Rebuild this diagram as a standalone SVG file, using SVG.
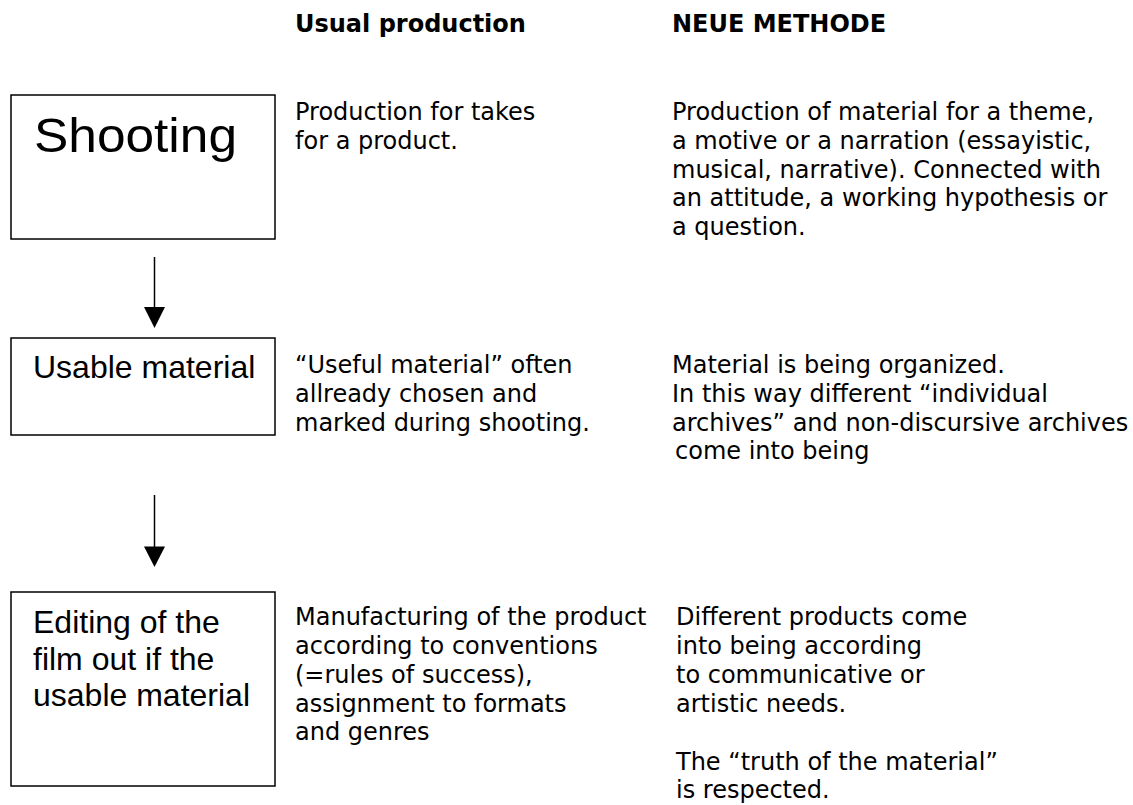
<svg xmlns="http://www.w3.org/2000/svg" width="1133" height="805" viewBox="0 0 1133 805">
  <style>
    .box { fill: #ffffff; stroke: #000000; stroke-width: 1.5; }
    .label { font-family: "Liberation Sans", Arial, sans-serif; font-size: 32px; fill: #000000; }
    .body { font-family: Verdana, "DejaVu Sans", sans-serif; font-size: 24px; fill: #000000; }
    .head { font-family: Verdana, "DejaVu Sans", sans-serif; font-size: 24px; font-weight: bold; fill: #000000; }
    .conn { stroke: #000000; stroke-width: 1.5; fill: none; }
    .tip { fill: #000000; stroke: none; }
  </style>

  <rect width="1133" height="805" fill="#ffffff"/>

  <!-- column headings -->
  <g id="headings">
    <text class="head" x="295" y="32">Usual production</text>
    <text class="head" x="672" y="32">NEUE METHODE</text>
  </g>

  <!-- process steps -->
  <g id="node-shooting">
    <rect class="box" x="11" y="95" width="264" height="144"/>
    <text class="label" x="34" y="152" style="font-size:48px" textLength="203" lengthAdjust="spacingAndGlyphs">Shooting</text>
  </g>

  <g id="node-usable">
    <rect class="box" x="11" y="338" width="264" height="97"/>
    <text class="label" x="33" y="378">Usable material</text>
  </g>

  <g id="node-editing">
    <rect class="box" x="11" y="592" width="264" height="194"/>
    <text class="label" x="33" y="633">Editing of the</text>
    <text class="label" x="33" y="670">film out if the</text>
    <text class="label" x="33" y="706">usable material</text>
  </g>

  <!-- arrows between steps -->
  <g id="connectors">
    <line class="conn" x1="154.5" y1="257" x2="154.5" y2="308"/>
    <polygon class="tip" points="144,307 165,307 154.5,328"/>
    <line class="conn" x1="154.5" y1="495" x2="154.5" y2="548"/>
    <polygon class="tip" points="144,546.5 165,546.5 154.5,567"/>
  </g>

  <!-- usual production column -->
  <g id="usual-shooting">
    <text class="body" x="295" y="120">Production for takes</text>
    <text class="body" x="295" y="149">for a product.</text>
  </g>
  <g id="usual-usable">
    <text class="body" x="295" y="373">“Useful material” often</text>
    <text class="body" x="295" y="402">allready chosen and</text>
    <text class="body" x="295" y="431">marked during shooting.</text>
  </g>
  <g id="usual-editing">
    <text class="body" x="295" y="625">Manufacturing of the product</text>
    <text class="body" x="295" y="654">according to conventions</text>
    <text class="body" x="295" y="683">(=rules of success),</text>
    <text class="body" x="295" y="712">assignment to formats</text>
    <text class="body" x="295" y="740">and genres</text>
  </g>

  <!-- new method column -->
  <g id="new-shooting">
    <text class="body" x="672" y="120">Production of material for a theme,</text>
    <text class="body" x="672" y="149">a motive or a narration (essayistic,</text>
    <text class="body" x="672" y="178">musical, narrative). Connected with</text>
    <text class="body" x="672" y="206">an attitude, a working hypothesis or</text>
    <text class="body" x="672" y="235">a question.</text>
  </g>
  <g id="new-usable">
    <text class="body" x="672" y="373">Material is being organized.</text>
    <text class="body" x="672" y="402">In this way different “individual</text>
    <text class="body" x="672" y="431">archives” and non-discursive archives</text>
    <text class="body" x="675" y="459">come into being</text>
  </g>
  <g id="new-editing">
    <text class="body" x="676" y="625">Different products come</text>
    <text class="body" x="676" y="654">into being according</text>
    <text class="body" x="676" y="683">to communicative or</text>
    <text class="body" x="676" y="712">artistic needs.</text>
    <text class="body" x="676" y="770">The “truth of the material”</text>
    <text class="body" x="676" y="798">is respected.</text>
  </g>
</svg>
